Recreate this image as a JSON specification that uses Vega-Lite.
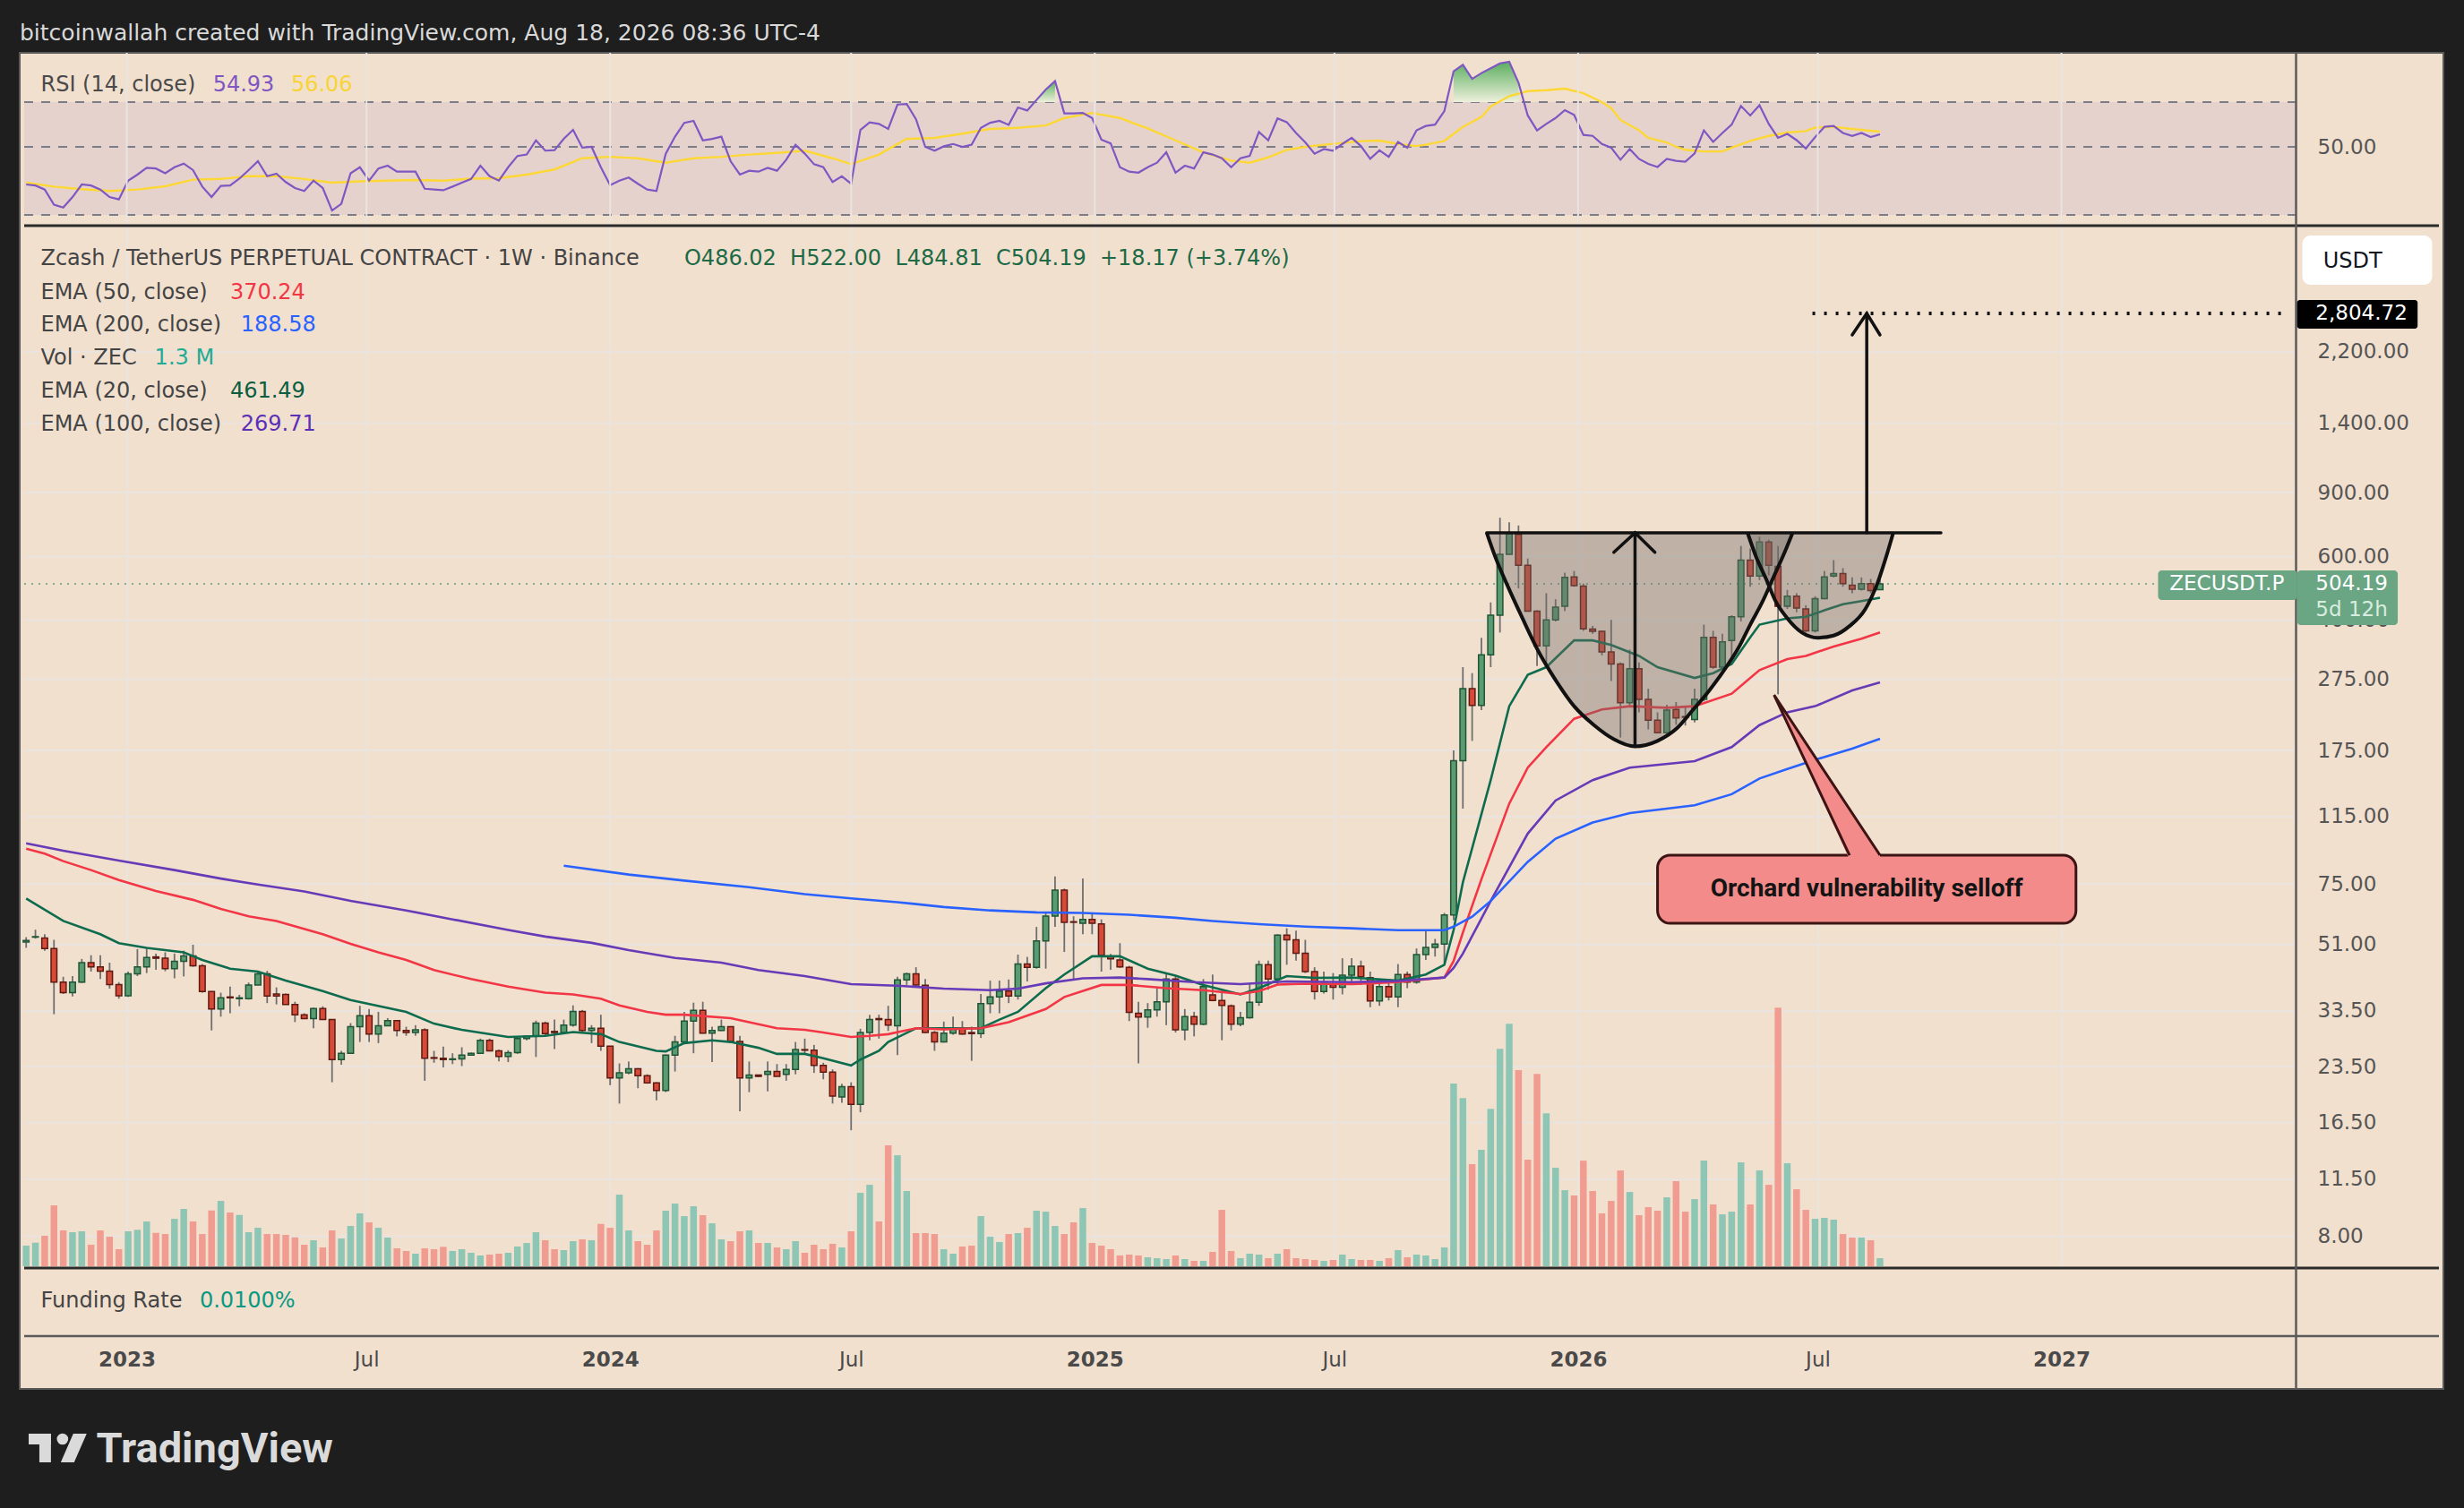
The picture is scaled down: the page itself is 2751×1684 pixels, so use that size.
{
  "$schema": "https://vega.github.io/schema/vega-lite/v6.json",
  "width": 2706,
  "height": 1492,
  "autosize": {"type": "none"},
  "padding": {"left": 22, "top": 59, "right": 23, "bottom": 133},
  "background": "#1e1e1e",
  "title": {
    "text": "bitcoinwallah created with TradingView.com, Aug 18, 2026 08:36 UTC-4",
    "anchor": "start", "frame": "group", "color": "#d9d9d9",
    "font": "DejaVu Sans", "fontSize": 25, "fontWeight": "normal", "offset": 8
  },
  "config": {
    "font": "DejaVu Sans",
    "view": {"fill": "#f2e0cf", "stroke": "#5a5a5a", "strokeWidth": 2},
    "axis": {"grid": false, "domain": false, "ticks": false},
    "text": {"font": "DejaVu Sans", "fontSize": 24, "baseline": "middle", "align": "left"}
  },
  "datasets": {
    "candles": [
      {"d":"2022-10-17","o":51.9,"h":53.5,"l":50.0,"c":52.4,"v":3.31,"r":37.7},
      {"d":"2022-10-24","o":53.5,"h":56.1,"l":53.0,"c":53.7,"v":3.79,"r":37.4},
      {"d":"2022-10-31","o":53.2,"h":54.5,"l":49.1,"c":49.8,"v":4.90,"r":36.3},
      {"d":"2022-11-07","o":49.8,"h":52.6,"l":32.8,"c":40.2,"v":9.79,"r":32.4},
      {"d":"2022-11-14","o":40.2,"h":41.6,"l":37.3,"c":37.6,"v":5.76,"r":31.7},
      {"d":"2022-11-21","o":37.6,"h":41.8,"l":36.7,"c":40.2,"v":5.47,"r":34.3},
      {"d":"2022-11-28","o":40.2,"h":46.6,"l":40.0,"c":45.5,"v":5.62,"r":37.7},
      {"d":"2022-12-05","o":45.5,"h":47.7,"l":43.0,"c":44.3,"v":3.46,"r":37.4},
      {"d":"2022-12-12","o":44.3,"h":47.7,"l":41.0,"c":43.1,"v":5.76,"r":36.3},
      {"d":"2022-12-19","o":43.1,"h":45.5,"l":38.6,"c":39.6,"v":4.75,"r":34.3},
      {"d":"2022-12-26","o":39.6,"h":40.2,"l":36.2,"c":36.9,"v":2.74,"r":33.7},
      {"d":"2023-01-02","o":36.9,"h":43.0,"l":36.6,"c":42.4,"v":5.62,"r":38.8},
      {"d":"2023-01-09","o":42.4,"h":49.6,"l":41.8,"c":44.3,"v":5.86,"r":40.6},
      {"d":"2023-01-16","o":44.3,"h":49.8,"l":42.6,"c":47.0,"v":7.20,"r":42.7},
      {"d":"2023-01-23","o":47.2,"h":48.2,"l":43.5,"c":46.8,"v":5.37,"r":42.5},
      {"d":"2023-01-30","o":46.8,"h":48.6,"l":43.1,"c":43.8,"v":5.18,"r":41.0},
      {"d":"2023-02-06","o":43.8,"h":48.2,"l":41.2,"c":45.9,"v":7.63,"r":42.9},
      {"d":"2023-02-13","o":45.9,"h":49.1,"l":41.7,"c":47.5,"v":9.22,"r":44.1},
      {"d":"2023-02-20","o":47.5,"h":51.0,"l":44.3,"c":44.6,"v":7.20,"r":42.0},
      {"d":"2023-02-27","o":44.6,"h":45.1,"l":37.6,"c":37.9,"v":5.18,"r":37.1},
      {"d":"2023-03-06","o":37.9,"h":38.0,"l":29.6,"c":33.9,"v":8.97,"r":34.3},
      {"d":"2023-03-13","o":33.9,"h":37.6,"l":32.3,"c":36.4,"v":10.51,"r":37.3},
      {"d":"2023-03-20","o":36.6,"h":39.1,"l":33.0,"c":36.4,"v":8.64,"r":37.4},
      {"d":"2023-03-27","o":36.2,"h":37.1,"l":34.5,"c":36.4,"v":8.25,"r":39.4},
      {"d":"2023-04-03","o":36.2,"h":40.1,"l":36.0,"c":39.5,"v":5.47,"r":42.0},
      {"d":"2023-04-10","o":39.5,"h":43.0,"l":39.5,"c":42.4,"v":6.19,"r":44.9},
      {"d":"2023-04-17","o":42.4,"h":43.2,"l":35.2,"c":36.8,"v":5.18,"r":40.1},
      {"d":"2023-04-24","o":37.3,"h":38.9,"l":34.9,"c":36.8,"v":5.18,"r":40.9},
      {"d":"2023-05-01","o":37.2,"h":37.4,"l":34.9,"c":34.9,"v":5.04,"r":38.4},
      {"d":"2023-05-08","o":34.9,"h":35.5,"l":31.2,"c":32.7,"v":4.65,"r":36.7},
      {"d":"2023-05-15","o":32.7,"h":33.0,"l":31.9,"c":31.9,"v":3.46,"r":35.9},
      {"d":"2023-05-22","o":31.9,"h":34.2,"l":30.0,"c":34.0,"v":4.18,"r":38.8},
      {"d":"2023-05-29","o":34.0,"h":34.5,"l":31.7,"c":31.7,"v":3.02,"r":36.7},
      {"d":"2023-06-05","o":31.7,"h":31.7,"l":21.3,"c":24.6,"v":5.76,"r":31.0},
      {"d":"2023-06-12","o":24.6,"h":26.0,"l":23.8,"c":25.6,"v":4.46,"r":32.6},
      {"d":"2023-06-19","o":25.6,"h":31.0,"l":25.5,"c":30.3,"v":6.48,"r":41.0},
      {"d":"2023-06-26","o":30.3,"h":34.6,"l":27.5,"c":32.5,"v":8.50,"r":42.9},
      {"d":"2023-07-03","o":32.5,"h":33.9,"l":27.5,"c":28.9,"v":7.06,"r":38.8},
      {"d":"2023-07-10","o":28.9,"h":33.3,"l":27.3,"c":30.5,"v":6.19,"r":42.5},
      {"d":"2023-07-17","o":30.5,"h":32.0,"l":30.4,"c":31.5,"v":4.61,"r":43.4},
      {"d":"2023-07-24","o":31.5,"h":31.6,"l":28.5,"c":29.6,"v":2.88,"r":41.5},
      {"d":"2023-07-31","o":29.6,"h":30.3,"l":28.6,"c":29.2,"v":2.45,"r":41.5},
      {"d":"2023-08-07","o":29.2,"h":30.6,"l":28.6,"c":29.7,"v":2.02,"r":41.5},
      {"d":"2023-08-14","o":29.7,"h":30.0,"l":21.5,"c":24.8,"v":2.88,"r":36.5},
      {"d":"2023-08-21","o":24.9,"h":26.0,"l":24.1,"c":24.8,"v":2.74,"r":36.3},
      {"d":"2023-08-28","o":24.8,"h":26.7,"l":23.4,"c":24.6,"v":3.12,"r":36.1},
      {"d":"2023-09-04","o":24.6,"h":25.6,"l":23.9,"c":24.7,"v":2.45,"r":37.1},
      {"d":"2023-09-11","o":24.7,"h":26.6,"l":23.6,"c":25.3,"v":2.74,"r":38.2},
      {"d":"2023-09-18","o":25.3,"h":25.7,"l":25.3,"c":25.6,"v":2.16,"r":39.3},
      {"d":"2023-09-25","o":25.6,"h":28.1,"l":25.5,"c":27.8,"v":1.73,"r":43.4},
      {"d":"2023-10-02","o":27.8,"h":28.1,"l":25.9,"c":26.0,"v":1.87,"r":40.1},
      {"d":"2023-10-09","o":26.0,"h":26.2,"l":24.3,"c":25.1,"v":2.02,"r":38.8},
      {"d":"2023-10-16","o":25.1,"h":26.1,"l":24.2,"c":25.7,"v":2.16,"r":42.9},
      {"d":"2023-10-23","o":25.7,"h":28.5,"l":25.5,"c":28.1,"v":3.17,"r":46.7},
      {"d":"2023-10-30","o":28.1,"h":28.6,"l":27.8,"c":28.5,"v":3.74,"r":47.2},
      {"d":"2023-11-06","o":28.5,"h":31.5,"l":25.0,"c":31.0,"v":5.47,"r":52.5},
      {"d":"2023-11-13","o":31.0,"h":31.3,"l":28.6,"c":29.0,"v":4.18,"r":48.6},
      {"d":"2023-11-20","o":29.4,"h":31.7,"l":26.3,"c":29.2,"v":2.74,"r":48.8},
      {"d":"2023-11-27","o":29.2,"h":31.7,"l":28.9,"c":30.6,"v":2.59,"r":53.1},
      {"d":"2023-12-04","o":30.6,"h":34.7,"l":30.3,"c":33.4,"v":4.03,"r":56.8},
      {"d":"2023-12-11","o":33.4,"h":33.7,"l":29.2,"c":29.6,"v":4.32,"r":49.7},
      {"d":"2023-12-18","o":29.6,"h":30.6,"l":27.3,"c":30.0,"v":4.18,"r":50.0},
      {"d":"2023-12-25","o":30.0,"h":32.7,"l":26.0,"c":26.8,"v":6.81,"r":42.9},
      {"d":"2024-01-01","o":26.8,"h":26.8,"l":20.9,"c":21.9,"v":6.19,"r":37.5},
      {"d":"2024-01-08","o":21.9,"h":24.0,"l":18.6,"c":22.6,"v":11.52,"r":38.8},
      {"d":"2024-01-15","o":22.6,"h":24.3,"l":22.4,"c":23.2,"v":5.76,"r":39.7},
      {"d":"2024-01-22","o":23.2,"h":23.3,"l":20.5,"c":22.2,"v":4.03,"r":37.9},
      {"d":"2024-01-29","o":22.2,"h":22.4,"l":21.1,"c":21.2,"v":3.46,"r":36.3},
      {"d":"2024-02-05","o":21.2,"h":21.3,"l":19.0,"c":20.2,"v":5.76,"r":35.9},
      {"d":"2024-02-12","o":20.2,"h":25.4,"l":20.0,"c":25.3,"v":8.93,"r":47.5},
      {"d":"2024-02-19","o":25.3,"h":28.6,"l":22.8,"c":27.5,"v":10.08,"r":54.0},
      {"d":"2024-02-26","o":27.5,"h":33.3,"l":27.5,"c":31.4,"v":8.06,"r":59.9},
      {"d":"2024-03-04","o":31.4,"h":35.3,"l":25.6,"c":33.6,"v":9.65,"r":60.8},
      {"d":"2024-03-11","o":33.6,"h":35.5,"l":29.0,"c":29.1,"v":8.21,"r":52.5},
      {"d":"2024-03-18","o":29.1,"h":30.3,"l":24.2,"c":29.6,"v":6.91,"r":53.1},
      {"d":"2024-03-25","o":29.6,"h":31.7,"l":29.5,"c":30.3,"v":4.32,"r":54.0},
      {"d":"2024-04-01","o":30.3,"h":30.4,"l":27.5,"c":27.6,"v":4.03,"r":44.9},
      {"d":"2024-04-08","o":27.6,"h":28.6,"l":17.7,"c":21.9,"v":5.62,"r":40.6},
      {"d":"2024-04-15","o":21.9,"h":24.3,"l":20.0,"c":22.3,"v":5.76,"r":41.8},
      {"d":"2024-04-22","o":22.3,"h":22.3,"l":22.0,"c":22.1,"v":3.74,"r":41.5},
      {"d":"2024-04-29","o":22.4,"h":24.3,"l":20.1,"c":22.8,"v":3.74,"r":42.7},
      {"d":"2024-05-06","o":22.8,"h":23.9,"l":22.1,"c":22.1,"v":3.02,"r":41.8},
      {"d":"2024-05-13","o":22.4,"h":23.9,"l":21.5,"c":23.1,"v":2.74,"r":45.4},
      {"d":"2024-05-20","o":23.1,"h":27.5,"l":22.4,"c":26.2,"v":4.03,"r":50.8},
      {"d":"2024-05-27","o":26.2,"h":28.1,"l":25.5,"c":26.1,"v":2.16,"r":47.5},
      {"d":"2024-06-03","o":26.1,"h":27.0,"l":22.6,"c":23.7,"v":3.46,"r":43.9},
      {"d":"2024-06-10","o":23.7,"h":24.1,"l":21.7,"c":22.7,"v":2.74,"r":42.9},
      {"d":"2024-06-17","o":22.7,"h":23.1,"l":18.6,"c":19.5,"v":3.60,"r":38.4},
      {"d":"2024-06-24","o":19.4,"h":21.1,"l":18.7,"c":20.7,"v":3.02,"r":40.1},
      {"d":"2024-07-01","o":20.7,"h":21.3,"l":15.7,"c":18.5,"v":5.62,"r":37.9},
      {"d":"2024-07-08","o":18.5,"h":29.9,"l":17.6,"c":29.2,"v":11.81,"r":56.8},
      {"d":"2024-07-15","o":29.2,"h":32.7,"l":27.8,"c":31.7,"v":13.10,"r":60.1},
      {"d":"2024-07-22","o":31.9,"h":32.7,"l":28.1,"c":31.7,"v":7.20,"r":59.4},
      {"d":"2024-07-29","o":31.7,"h":34.6,"l":29.5,"c":30.6,"v":19.44,"r":57.2},
      {"d":"2024-08-05","o":30.5,"h":41.6,"l":25.3,"c":40.8,"v":17.86,"r":68.7},
      {"d":"2024-08-12","o":40.8,"h":42.7,"l":39.5,"c":42.4,"v":12.10,"r":69.0},
      {"d":"2024-08-19","o":42.4,"h":44.2,"l":39.1,"c":39.5,"v":5.33,"r":61.5},
      {"d":"2024-08-26","o":39.4,"h":41.0,"l":29.1,"c":29.2,"v":5.33,"r":50.0},
      {"d":"2024-09-02","o":29.2,"h":29.5,"l":26.0,"c":27.5,"v":5.18,"r":48.6},
      {"d":"2024-09-09","o":27.5,"h":31.3,"l":27.4,"c":29.1,"v":2.74,"r":50.2},
      {"d":"2024-09-16","o":29.1,"h":32.3,"l":28.8,"c":30.0,"v":2.02,"r":51.1},
      {"d":"2024-09-23","o":30.0,"h":31.4,"l":28.8,"c":28.9,"v":3.17,"r":50.0},
      {"d":"2024-09-30","o":29.2,"h":30.3,"l":24.4,"c":29.0,"v":3.31,"r":50.8},
      {"d":"2024-10-07","o":29.0,"h":37.3,"l":28.2,"c":35.1,"v":8.06,"r":57.7},
      {"d":"2024-10-14","o":35.1,"h":40.6,"l":33.0,"c":36.6,"v":4.75,"r":59.9},
      {"d":"2024-10-21","o":36.6,"h":40.6,"l":33.0,"c":38.0,"v":3.89,"r":60.8},
      {"d":"2024-10-28","o":38.0,"h":40.9,"l":35.2,"c":36.8,"v":5.18,"r":59.0},
      {"d":"2024-11-04","o":36.8,"h":47.9,"l":36.0,"c":45.1,"v":5.33,"r":67.2},
      {"d":"2024-11-11","o":45.1,"h":47.2,"l":40.4,"c":44.2,"v":6.19,"r":65.7},
      {"d":"2024-11-18","o":44.2,"h":57.1,"l":43.8,"c":52.2,"v":8.93,"r":71.1},
      {"d":"2024-11-25","o":52.2,"h":62.4,"l":43.8,"c":61.2,"v":8.78,"r":76.9},
      {"d":"2024-12-02","o":61.2,"h":78.6,"l":57.1,"c":72.1,"v":6.48,"r":81.9},
      {"d":"2024-12-09","o":72.1,"h":72.8,"l":48.7,"c":58.8,"v":5.18,"r":64.3},
      {"d":"2024-12-16","o":59.0,"h":61.1,"l":41.0,"c":58.8,"v":7.06,"r":64.3},
      {"d":"2024-12-23","o":58.4,"h":77.7,"l":54.5,"c":59.9,"v":9.36,"r":64.5},
      {"d":"2024-12-30","o":59.9,"h":62.4,"l":54.5,"c":58.4,"v":3.74,"r":62.1},
      {"d":"2025-01-06","o":58.2,"h":59.9,"l":43.0,"c":47.7,"v":3.31,"r":52.8},
      {"d":"2025-01-13","o":47.4,"h":48.1,"l":43.5,"c":46.6,"v":2.74,"r":51.3},
      {"d":"2025-01-20","o":46.3,"h":51.5,"l":44.0,"c":44.3,"v":1.73,"r":42.9},
      {"d":"2025-01-27","o":44.2,"h":44.6,"l":31.4,"c":33.2,"v":1.87,"r":41.5},
      {"d":"2025-02-03","o":33.0,"h":35.5,"l":24.0,"c":32.2,"v":1.73,"r":41.2},
      {"d":"2025-02-10","o":32.2,"h":35.2,"l":30.1,"c":33.7,"v":1.44,"r":42.9},
      {"d":"2025-02-17","o":33.7,"h":38.7,"l":32.3,"c":35.5,"v":1.30,"r":44.4},
      {"d":"2025-02-24","o":35.5,"h":42.6,"l":30.6,"c":41.0,"v":1.15,"r":48.0},
      {"d":"2025-03-03","o":41.0,"h":41.8,"l":29.2,"c":29.7,"v":1.73,"r":41.2},
      {"d":"2025-03-10","o":29.7,"h":33.9,"l":27.8,"c":32.3,"v":1.15,"r":43.4},
      {"d":"2025-03-17","o":32.3,"h":33.3,"l":28.5,"c":30.8,"v":0.86,"r":42.5},
      {"d":"2025-03-24","o":30.8,"h":41.0,"l":30.6,"c":39.1,"v":0.86,"r":48.0},
      {"d":"2025-03-31","o":37.1,"h":42.2,"l":35.6,"c":35.8,"v":2.30,"r":47.2},
      {"d":"2025-04-07","o":35.8,"h":38.6,"l":27.8,"c":34.7,"v":9.07,"r":45.9},
      {"d":"2025-04-14","o":34.6,"h":34.9,"l":29.6,"c":30.8,"v":2.45,"r":42.9},
      {"d":"2025-04-21","o":30.8,"h":33.3,"l":30.4,"c":32.1,"v":1.30,"r":45.9},
      {"d":"2025-04-28","o":32.1,"h":39.9,"l":31.9,"c":35.4,"v":2.02,"r":46.7},
      {"d":"2025-05-05","o":35.4,"h":46.1,"l":34.6,"c":44.9,"v":1.87,"r":55.9},
      {"d":"2025-05-12","o":44.9,"h":46.1,"l":38.3,"c":41.0,"v":1.30,"r":52.5},
      {"d":"2025-05-19","o":41.0,"h":54.5,"l":39.5,"c":54.2,"v":2.02,"r":61.9},
      {"d":"2025-05-26","o":54.2,"h":56.6,"l":44.9,"c":52.6,"v":2.74,"r":60.2},
      {"d":"2025-06-02","o":52.6,"h":55.8,"l":46.1,"c":48.3,"v":1.30,"r":55.5},
      {"d":"2025-06-09","o":48.3,"h":52.6,"l":42.6,"c":43.0,"v":1.15,"r":51.7},
      {"d":"2025-06-16","o":43.0,"h":44.2,"l":36.0,"c":37.9,"v":1.01,"r":47.5},
      {"d":"2025-06-23","o":37.9,"h":43.0,"l":37.4,"c":39.9,"v":0.86,"r":49.2},
      {"d":"2025-06-30","o":39.6,"h":42.6,"l":36.0,"c":38.9,"v":1.01,"r":48.6},
      {"d":"2025-07-07","o":38.9,"h":46.8,"l":37.2,"c":42.0,"v":1.87,"r":51.1},
      {"d":"2025-07-14","o":42.0,"h":46.8,"l":39.5,"c":44.5,"v":1.15,"r":53.5},
      {"d":"2025-07-21","o":44.5,"h":46.1,"l":39.5,"c":41.6,"v":1.01,"r":50.3},
      {"d":"2025-07-28","o":41.4,"h":43.0,"l":34.3,"c":35.7,"v":1.01,"r":45.7},
      {"d":"2025-08-04","o":35.7,"h":40.2,"l":34.6,"c":39.1,"v":0.86,"r":48.7},
      {"d":"2025-08-11","o":39.1,"h":41.0,"l":35.8,"c":36.6,"v":1.30,"r":46.4},
      {"d":"2025-08-18","o":36.6,"h":45.1,"l":34.3,"c":42.2,"v":2.59,"r":51.9},
      {"d":"2025-08-25","o":42.2,"h":43.0,"l":38.7,"c":40.2,"v":1.44,"r":49.7},
      {"d":"2025-09-01","o":40.2,"h":49.8,"l":39.8,"c":47.9,"v":1.87,"r":56.6},
      {"d":"2025-09-08","o":47.9,"h":55.6,"l":46.3,"c":50.1,"v":1.73,"r":58.5},
      {"d":"2025-09-15","o":50.1,"h":52.9,"l":47.3,"c":51.2,"v":1.15,"r":59.1},
      {"d":"2025-09-22","o":51.2,"h":62.4,"l":45.4,"c":61.6,"v":3.02,"r":65.4},
      {"d":"2025-09-29","o":61.6,"h":175,"l":59.5,"c":164,"v":29.38,"r":88.2},
      {"d":"2025-10-06","o":164,"h":297,"l":121,"c":259,"v":27.07,"r":92.6},
      {"d":"2025-10-13","o":259,"h":286,"l":186,"c":233,"v":16.42,"r":83.3},
      {"d":"2025-10-20","o":233,"h":358,"l":226,"c":321,"v":18.72,"r":87.0},
      {"d":"2025-10-27","o":321,"h":448,"l":297,"c":413,"v":25.34,"r":90.2},
      {"d":"2025-11-03","o":413,"h":767,"l":370,"c":608,"v":34.99,"r":93.6},
      {"d":"2025-11-10","o":608,"h":745,"l":607,"c":694,"v":39.02,"r":94.7},
      {"d":"2025-11-17","o":690,"h":730,"l":490,"c":567,"v":31.54,"r":81.0},
      {"d":"2025-11-24","o":567,"h":592,"l":423,"c":424,"v":17.14,"r":63.3},
      {"d":"2025-12-01","o":424,"h":426,"l":299,"c":340,"v":30.96,"r":56.6},
      {"d":"2025-12-08","o":340,"h":475,"l":303,"c":401,"v":24.62,"r":59.4},
      {"d":"2025-12-15","o":401,"h":457,"l":397,"c":435,"v":15.84,"r":62.1},
      {"d":"2025-12-22","o":437,"h":541,"l":424,"c":525,"v":12.24,"r":65.9},
      {"d":"2025-12-29","o":527,"h":547,"l":495,"c":498,"v":11.38,"r":63.6},
      {"d":"2026-01-05","o":497,"h":505,"l":374,"c":379,"v":16.99,"r":54.7},
      {"d":"2026-01-12","o":378,"h":386,"l":367,"c":373,"v":12.10,"r":54.3},
      {"d":"2026-01-19","o":373,"h":374,"l":320,"c":327,"v":8.50,"r":51.1},
      {"d":"2026-01-26","o":327,"h":401,"l":272,"c":303,"v":10.51,"r":49.7},
      {"d":"2026-02-02","o":303,"h":306,"l":190,"c":237,"v":15.41,"r":45.4},
      {"d":"2026-02-09","o":237,"h":332,"l":231,"c":294,"v":11.95,"r":49.2},
      {"d":"2026-02-16","o":294,"h":306,"l":223,"c":242,"v":8.21,"r":45.7},
      {"d":"2026-02-23","o":242,"h":259,"l":200,"c":212,"v":9.50,"r":44.0},
      {"d":"2026-03-02","o":212,"h":223,"l":195,"c":196,"v":8.93,"r":43.0},
      {"d":"2026-03-09","o":196,"h":234,"l":193,"c":226,"v":11.09,"r":45.7},
      {"d":"2026-03-16","o":227,"h":238,"l":206,"c":215,"v":13.68,"r":45.0},
      {"d":"2026-03-23","o":217,"h":232,"l":205,"c":216,"v":8.78,"r":44.7},
      {"d":"2026-03-30","o":213,"h":259,"l":209,"c":242,"v":10.80,"r":47.6},
      {"d":"2026-04-06","o":242,"h":389,"l":239,"c":359,"v":16.99,"r":56.6},
      {"d":"2026-04-13","o":359,"h":374,"l":294,"c":297,"v":9.94,"r":51.9},
      {"d":"2026-04-20","o":297,"h":367,"l":293,"c":349,"v":8.35,"r":55.5},
      {"d":"2026-04-27","o":352,"h":413,"l":309,"c":409,"v":8.78,"r":59.1},
      {"d":"2026-05-04","o":409,"h":641,"l":397,"c":586,"v":16.70,"r":68.0},
      {"d":"2026-05-11","o":586,"h":630,"l":495,"c":530,"v":9.94,"r":63.3},
      {"d":"2026-05-18","o":530,"h":680,"l":516,"c":657,"v":15.41,"r":68.4},
      {"d":"2026-05-25","o":657,"h":667,"l":532,"c":567,"v":13.10,"r":59.4},
      {"d":"2026-06-01","o":563,"h":641,"l":250,"c":437,"v":41.62,"r":53.5},
      {"d":"2026-06-08","o":437,"h":485,"l":430,"c":466,"v":16.56,"r":55.1},
      {"d":"2026-06-15","o":466,"h":475,"l":421,"c":432,"v":12.38,"r":52.6},
      {"d":"2026-06-22","o":430,"h":440,"l":370,"c":374,"v":9.07,"r":49.4},
      {"d":"2026-06-29","o":374,"h":466,"l":370,"c":459,"v":7.63,"r":53.8},
      {"d":"2026-07-06","o":459,"h":547,"l":457,"c":527,"v":7.78,"r":58.1},
      {"d":"2026-07-13","o":530,"h":586,"l":525,"c":538,"v":7.49,"r":58.5},
      {"d":"2026-07-20","o":538,"h":557,"l":495,"c":505,"v":5.18,"r":55.5},
      {"d":"2026-07-27","o":500,"h":525,"l":475,"c":487,"v":4.61,"r":54.3},
      {"d":"2026-08-03","o":487,"h":525,"l":483,"c":505,"v":4.61,"r":55.5},
      {"d":"2026-08-10","o":505,"h":520,"l":475,"c":483,"v":4.18,"r":53.8},
      {"d":"2026-08-17","o":486.02,"h":522.00,"l":484.81,"c":504.19,"v":1.30,"r":54.93}
    ],
    "ema": [
      {"s":"20","d":"2022-10-17","v":68.4},{"s":"20","d":"2022-11-14","v":59.3},{"s":"20","d":"2022-12-12","v":54.5},{"s":"20","d":"2022-12-26","v":51.5},
      {"s":"20","d":"2023-01-16","v":50.0},{"s":"20","d":"2023-02-13","v":48.6},{"s":"20","d":"2023-02-27","v":46.3},{"s":"20","d":"2023-03-20","v":43.8},
      {"s":"20","d":"2023-04-10","v":43.0},{"s":"20","d":"2023-05-01","v":40.6},{"s":"20","d":"2023-05-29","v":38.0},{"s":"20","d":"2023-06-19","v":35.9},
      {"s":"20","d":"2023-07-31","v":33.3},{"s":"20","d":"2023-08-21","v":30.9},{"s":"20","d":"2023-09-11","v":29.7},{"s":"20","d":"2023-10-16","v":28.4},
      {"s":"20","d":"2023-11-13","v":28.6},{"s":"20","d":"2023-12-04","v":29.3},{"s":"20","d":"2023-12-25","v":28.9},{"s":"20","d":"2024-01-08","v":27.5},
      {"s":"20","d":"2024-02-05","v":26.0},{"s":"20","d":"2024-02-12","v":25.9},{"s":"20","d":"2024-02-26","v":27.3},{"s":"20","d":"2024-03-18","v":27.8},
      {"s":"20","d":"2024-04-01","v":27.5},{"s":"20","d":"2024-04-22","v":26.5},{"s":"20","d":"2024-05-06","v":25.5},{"s":"20","d":"2024-05-27","v":25.5},
      {"s":"20","d":"2024-06-10","v":24.8},{"s":"20","d":"2024-07-01","v":23.7},{"s":"20","d":"2024-07-08","v":24.6},{"s":"20","d":"2024-07-22","v":26.0},
      {"s":"20","d":"2024-07-29","v":27.5},{"s":"20","d":"2024-08-19","v":30.0},{"s":"20","d":"2024-09-09","v":30.0},{"s":"20","d":"2024-10-07","v":30.0},
      {"s":"20","d":"2024-10-21","v":31.7},{"s":"20","d":"2024-11-04","v":33.3},{"s":"20","d":"2024-11-25","v":38.7},{"s":"20","d":"2024-12-09","v":42.2},
      {"s":"20","d":"2024-12-30","v":47.4},{"s":"20","d":"2025-01-20","v":47.4},{"s":"20","d":"2025-02-10","v":43.8},{"s":"20","d":"2025-03-03","v":41.9},
      {"s":"20","d":"2025-03-24","v":39.5},{"s":"20","d":"2025-04-21","v":37.2},{"s":"20","d":"2025-05-05","v":38.7},{"s":"20","d":"2025-05-26","v":41.8},
      {"s":"20","d":"2025-06-16","v":41.3},{"s":"20","d":"2025-07-14","v":41.4},{"s":"20","d":"2025-08-18","v":40.6},{"s":"20","d":"2025-09-08","v":42.2},
      {"s":"20","d":"2025-09-22","v":44.9},{"s":"20","d":"2025-09-29","v":56.0},{"s":"20","d":"2025-10-06","v":75.8},{"s":"20","d":"2025-10-27","v":145},
      {"s":"20","d":"2025-11-10","v":231.8},{"s":"20","d":"2025-11-24","v":282.9},{"s":"20","d":"2025-12-08","v":297},{"s":"20","d":"2025-12-29","v":352},
      {"s":"20","d":"2026-01-12","v":352},{"s":"20","d":"2026-01-26","v":342},{"s":"20","d":"2026-02-16","v":319},{"s":"20","d":"2026-03-02","v":297},
      {"s":"20","d":"2026-03-30","v":277.3},{"s":"20","d":"2026-04-13","v":286},{"s":"20","d":"2026-04-27","v":303},{"s":"20","d":"2026-05-11","v":359},
      {"s":"20","d":"2026-05-18","v":389},{"s":"20","d":"2026-06-08","v":405},{"s":"20","d":"2026-06-22","v":409},{"s":"20","d":"2026-07-06","v":426},
      {"s":"20","d":"2026-07-20","v":443},{"s":"20","d":"2026-08-03","v":452},{"s":"20","d":"2026-08-17","v":461.49},
      {"s":"50","d":"2022-10-17","v":93.8},{"s":"50","d":"2022-10-31","v":90.9},{"s":"50","d":"2022-11-14","v":86.7},{"s":"50","d":"2022-12-05","v":81.9},
      {"s":"50","d":"2022-12-26","v":76.9},{"s":"50","d":"2023-01-23","v":71.7},{"s":"50","d":"2023-02-20","v":67.8},{"s":"50","d":"2023-03-13","v":64.0},
      {"s":"50","d":"2023-04-03","v":61.1},{"s":"50","d":"2023-04-24","v":59.3},{"s":"50","d":"2023-05-29","v":54.5},{"s":"50","d":"2023-06-19","v":51.3},
      {"s":"50","d":"2023-07-10","v":48.6},{"s":"50","d":"2023-07-31","v":46.3},{"s":"50","d":"2023-08-21","v":43.4},{"s":"50","d":"2023-09-18","v":41.0},
      {"s":"50","d":"2023-10-16","v":39.1},{"s":"50","d":"2023-11-13","v":37.6},{"s":"50","d":"2023-12-04","v":37.2},{"s":"50","d":"2023-12-25","v":36.2},
      {"s":"50","d":"2024-01-08","v":34.7},{"s":"50","d":"2024-01-29","v":33.3},{"s":"50","d":"2024-02-12","v":32.7},{"s":"50","d":"2024-02-26","v":32.7},
      {"s":"50","d":"2024-04-01","v":32.0},{"s":"50","d":"2024-04-15","v":31.2},{"s":"50","d":"2024-05-06","v":30.0},{"s":"50","d":"2024-05-27","v":29.7},
      {"s":"50","d":"2024-06-10","v":29.2},{"s":"50","d":"2024-07-01","v":28.4},{"s":"50","d":"2024-07-15","v":28.6},{"s":"50","d":"2024-07-29","v":28.9},
      {"s":"50","d":"2024-08-19","v":30.0},{"s":"50","d":"2024-09-09","v":29.8},{"s":"50","d":"2024-10-07","v":30.0},{"s":"50","d":"2024-10-28","v":31.2},
      {"s":"50","d":"2024-11-25","v":33.9},{"s":"50","d":"2024-12-09","v":36.6},{"s":"50","d":"2025-01-06","v":39.5},{"s":"50","d":"2025-01-27","v":39.5},
      {"s":"50","d":"2025-02-24","v":38.7},{"s":"50","d":"2025-03-24","v":38.2},{"s":"50","d":"2025-04-21","v":37.3},{"s":"50","d":"2025-05-05","v":38.0},
      {"s":"50","d":"2025-05-19","v":39.6},{"s":"50","d":"2025-06-09","v":39.8},{"s":"50","d":"2025-07-14","v":39.7},{"s":"50","d":"2025-08-18","v":40.2},
      {"s":"50","d":"2025-09-22","v":41.4},{"s":"50","d":"2025-09-29","v":46.0},{"s":"50","d":"2025-10-06","v":55.1},{"s":"50","d":"2025-10-20","v":77.3},
      {"s":"50","d":"2025-11-10","v":124.9},{"s":"50","d":"2025-11-24","v":157},{"s":"50","d":"2025-12-08","v":178.8},{"s":"50","d":"2025-12-29","v":214},
      {"s":"50","d":"2026-01-19","v":227},{"s":"50","d":"2026-02-09","v":231.8},{"s":"50","d":"2026-03-09","v":229.5},{"s":"50","d":"2026-03-30","v":231.8},
      {"s":"50","d":"2026-04-27","v":251},{"s":"50","d":"2026-05-18","v":291.5},{"s":"50","d":"2026-06-08","v":312.6},{"s":"50","d":"2026-06-22","v":319},
      {"s":"50","d":"2026-07-13","v":338.6},{"s":"50","d":"2026-08-03","v":356},{"s":"50","d":"2026-08-17","v":370.24},
      {"s":"100","d":"2022-10-17","v":97.1},{"s":"100","d":"2022-11-14","v":92.6},{"s":"100","d":"2022-12-26","v":87.0},{"s":"100","d":"2023-02-06","v":81.9},
      {"s":"100","d":"2023-03-13","v":77.6},{"s":"100","d":"2023-04-10","v":74.7},{"s":"100","d":"2023-05-15","v":71.5},{"s":"100","d":"2023-06-19","v":67.4},
      {"s":"100","d":"2023-07-31","v":63.4},{"s":"100","d":"2023-09-04","v":59.9},{"s":"100","d":"2023-10-16","v":56.0},{"s":"100","d":"2023-11-13","v":53.7},
      {"s":"100","d":"2023-12-18","v":51.6},{"s":"100","d":"2024-01-15","v":49.3},{"s":"100","d":"2024-02-19","v":46.9},{"s":"100","d":"2024-03-25","v":45.5},
      {"s":"100","d":"2024-04-22","v":43.4},{"s":"100","d":"2024-05-27","v":41.8},{"s":"100","d":"2024-07-01","v":39.7},{"s":"100","d":"2024-08-05","v":39.3},
      {"s":"100","d":"2024-09-09","v":38.6},{"s":"100","d":"2024-10-14","v":38.2},{"s":"100","d":"2024-11-04","v":38.6},{"s":"100","d":"2024-11-25","v":39.9},
      {"s":"100","d":"2024-12-23","v":41.2},{"s":"100","d":"2025-01-20","v":41.4},{"s":"100","d":"2025-02-10","v":41.0},{"s":"100","d":"2025-03-17","v":40.2},
      {"s":"100","d":"2025-04-21","v":39.7},{"s":"100","d":"2025-05-26","v":40.4},{"s":"100","d":"2025-07-14","v":40.2},{"s":"100","d":"2025-08-18","v":40.5},
      {"s":"100","d":"2025-09-22","v":41.4},{"s":"100","d":"2025-09-29","v":44.0},{"s":"100","d":"2025-10-06","v":48.2},{"s":"100","d":"2025-10-27","v":67.3},
      {"s":"100","d":"2025-11-24","v":103.3},{"s":"100","d":"2025-12-15","v":127.4},{"s":"100","d":"2026-01-12","v":145},{"s":"100","d":"2026-02-09","v":157},
      {"s":"100","d":"2026-03-30","v":163.5},{"s":"100","d":"2026-04-27","v":178.8},{"s":"100","d":"2026-05-18","v":205.6},{"s":"100","d":"2026-06-08","v":223},
      {"s":"100","d":"2026-06-29","v":231.8},{"s":"100","d":"2026-07-27","v":256.1},{"s":"100","d":"2026-08-17","v":269.71},
      {"s":"200","d":"2023-11-27","v":84.2},{"s":"200","d":"2024-01-15","v":79.6},{"s":"200","d":"2024-02-26","v":76.6},{"s":"200","d":"2024-04-15","v":73.5},
      {"s":"200","d":"2024-05-27","v":70.3},{"s":"200","d":"2024-07-01","v":68.4},{"s":"200","d":"2024-08-05","v":66.8},{"s":"200","d":"2024-09-09","v":64.8},
      {"s":"200","d":"2024-10-14","v":63.4},{"s":"200","d":"2024-11-18","v":62.6},{"s":"200","d":"2024-12-23","v":62.4},{"s":"200","d":"2025-01-27","v":61.7},
      {"s":"200","d":"2025-03-03","v":60.5},{"s":"200","d":"2025-03-31","v":59.3},{"s":"200","d":"2025-05-05","v":58.1},{"s":"200","d":"2025-06-09","v":57.2},
      {"s":"200","d":"2025-07-14","v":56.6},{"s":"200","d":"2025-08-18","v":55.9},{"s":"200","d":"2025-09-22","v":55.9},{"s":"200","d":"2025-09-29","v":57.2},
      {"s":"200","d":"2025-10-13","v":60.9},{"s":"200","d":"2025-10-27","v":67.3},{"s":"200","d":"2025-11-24","v":86.3},{"s":"200","d":"2025-12-15","v":100},
      {"s":"200","d":"2026-01-12","v":110.8},{"s":"200","d":"2026-02-09","v":117.6},{"s":"200","d":"2026-03-30","v":123.6},{"s":"200","d":"2026-04-27","v":132.6},
      {"s":"200","d":"2026-05-18","v":146.5},{"s":"200","d":"2026-06-08","v":155.5},{"s":"200","d":"2026-06-29","v":165},{"s":"200","d":"2026-07-27","v":177},
      {"s":"200","d":"2026-08-17","v":188.58}
    ],
    "rsima": [
      {"d":"2022-10-17","v":38.2},{"d":"2022-11-07","v":37.1},{"d":"2022-11-28","v":36.4},{"d":"2022-12-19","v":35.9},{"d":"2023-01-09","v":36.3},
      {"d":"2023-01-30","v":37.2},{"d":"2023-02-20","v":39.1},{"d":"2023-03-13","v":39.3},{"d":"2023-04-03","v":40.1},{"d":"2023-04-24","v":40.1},
      {"d":"2023-05-15","v":39.3},{"d":"2023-06-05","v":38.2},{"d":"2023-06-26","v":38.6},{"d":"2023-07-17","v":38.8},{"d":"2023-08-07","v":39.0},
      {"d":"2023-08-28","v":38.8},{"d":"2023-09-18","v":39.4},{"d":"2023-10-09","v":39.5},{"d":"2023-10-30","v":40.6},{"d":"2023-11-20","v":42.2},
      {"d":"2023-12-11","v":45.9},{"d":"2024-01-01","v":46.4},{"d":"2024-01-22","v":45.9},{"d":"2024-02-12","v":44.4},{"d":"2024-03-04","v":45.9},
      {"d":"2024-03-25","v":46.4},{"d":"2024-04-15","v":47.2},{"d":"2024-05-06","v":47.8},{"d":"2024-05-27","v":48.6},{"d":"2024-06-17","v":45.9},
      {"d":"2024-07-01","v":43.9},{"d":"2024-07-22","v":47.2},{"d":"2024-08-12","v":53.1},{"d":"2024-09-02","v":53.5},{"d":"2024-09-23","v":55.2},
      {"d":"2024-10-14","v":57.2},{"d":"2024-11-04","v":57.7},{"d":"2024-11-25","v":58.7},{"d":"2024-12-09","v":62.1},{"d":"2024-12-30","v":64.5},
      {"d":"2025-01-20","v":62.1},{"d":"2025-02-10","v":57.4},{"d":"2025-03-03","v":52.5},{"d":"2025-03-24","v":48.0},{"d":"2025-04-14","v":45.1},
      {"d":"2025-04-28","v":44.4},{"d":"2025-05-12","v":46.2},{"d":"2025-05-26","v":48.9},{"d":"2025-06-09","v":50.0},{"d":"2025-06-23","v":50.8},
      {"d":"2025-07-07","v":51.5},{"d":"2025-07-21","v":52.2},{"d":"2025-08-04","v":52.4},{"d":"2025-08-18","v":51.1},{"d":"2025-09-01","v":50.3},
      {"d":"2025-09-08","v":50.8},{"d":"2025-09-22","v":52.3},{"d":"2025-10-06","v":58.1},{"d":"2025-10-20","v":62.6},{"d":"2025-10-27","v":67.7},
      {"d":"2025-11-10","v":73.2},{"d":"2025-11-24","v":76.0},{"d":"2025-12-08","v":76.5},{"d":"2025-12-22","v":77.4},{"d":"2026-01-05","v":74.8},
      {"d":"2026-01-19","v":70.0},{"d":"2026-01-26","v":66.9},{"d":"2026-02-02","v":61.2},{"d":"2026-02-16","v":56.6},{"d":"2026-02-23","v":53.5},
      {"d":"2026-03-09","v":51.7},{"d":"2026-03-16","v":50.0},{"d":"2026-03-23","v":48.9},{"d":"2026-04-06","v":48.3},{"d":"2026-04-20","v":48.3},
      {"d":"2026-04-27","v":49.7},{"d":"2026-05-11","v":52.3},{"d":"2026-05-25","v":54.3},{"d":"2026-06-08","v":55.7},{"d":"2026-06-22","v":56.3},
      {"d":"2026-06-29","v":57.8},{"d":"2026-07-13","v":58.1},{"d":"2026-07-27","v":57.2},{"d":"2026-08-17","v":56.06}
    ],
    "ob": [
      {"s":"a","d":"2024-11-18","r":71.1},{"s":"a","d":"2024-11-25","r":76.9},{"s":"a","d":"2024-12-02","r":81.9},
      {"s":"b","d":"2025-09-29","r":88.2},{"s":"b","d":"2025-10-06","r":92.6},{"s":"b","d":"2025-10-13","r":83.3},{"s":"b","d":"2025-10-20","r":87.0},
      {"s":"b","d":"2025-10-27","r":90.2},{"s":"b","d":"2025-11-03","r":93.6},{"s":"b","d":"2025-11-10","r":94.7},{"s":"b","d":"2025-11-17","r":81.0}
    ],
    "xt": [
      {"t":"2023-01-01"},{"t":"2023-07-01"},{"t":"2024-01-01"},{"t":"2024-07-01"},{"t":"2025-01-01"},
      {"t":"2025-07-01"},{"t":"2026-01-01"},{"t":"2026-07-01"},{"t":"2027-01-01"}
    ],
    "cup": [
      {"g":"cup","d":"2025-10-24","p":697},{"g":"cup","d":"2025-10-30","p":604},{"g":"cup","d":"2025-11-08","p":505},{"g":"cup","d":"2025-11-20","p":405},
      {"g":"cup","d":"2025-12-02","p":328.6},{"g":"cup","d":"2025-12-14","p":277.3},{"g":"cup","d":"2025-12-29","p":231.8},{"g":"cup","d":"2026-01-13","p":205.6},
      {"g":"cup","d":"2026-01-28","p":188},{"g":"cup","d":"2026-02-13","p":179.6},{"g":"cup","d":"2026-03-02","p":186},{"g":"cup","d":"2026-03-17","p":202},
      {"g":"cup","d":"2026-03-29","p":227},{"g":"cup","d":"2026-04-10","p":256},{"g":"cup","d":"2026-04-22","p":294},{"g":"cup","d":"2026-05-02","p":335},
      {"g":"cup","d":"2026-05-11","p":389},{"g":"cup","d":"2026-05-20","p":448},{"g":"cup","d":"2026-05-29","p":530},{"g":"cup","d":"2026-06-07","p":628.5},
      {"g":"cup","d":"2026-06-12","p":697},
      {"g":"hdl","d":"2026-05-09","p":697},{"g":"hdl","d":"2026-05-15","p":604},{"g":"hdl","d":"2026-05-23","p":520},{"g":"hdl","d":"2026-05-30","p":452.6},
      {"g":"hdl","d":"2026-06-08","p":405},{"g":"hdl","d":"2026-06-19","p":370},{"g":"hdl","d":"2026-07-01","p":358},{"g":"hdl","d":"2026-07-13","p":363},
      {"g":"hdl","d":"2026-07-25","p":385.5},{"g":"hdl","d":"2026-08-06","p":430},{"g":"hdl","d":"2026-08-15","p":505},{"g":"hdl","d":"2026-08-22","p":604},
      {"g":"hdl","d":"2026-08-27","p":697}
    ],
    "draw": [
      {"g":"rim","k":1,"d":"2025-10-24","p":697},{"g":"rim","k":2,"d":"2026-10-02","p":697},
      {"g":"s1","k":1,"d":"2026-02-13","p":179.6},{"g":"s1","k":2,"d":"2026-02-13","p":697},
      {"g":"a1","k":1,"d":"2026-01-28","p":616},{"g":"a1","k":2,"d":"2026-02-13","p":697},{"g":"a1","k":3,"d":"2026-02-28","p":616},
      {"g":"s2","k":1,"d":"2026-08-07","p":697},{"g":"s2","k":2,"d":"2026-08-07","p":2804.72},
      {"g":"a2","k":1,"d":"2026-07-27","p":2448},{"g":"a2","k":2,"d":"2026-08-07","p":2804.72},{"g":"a2","k":3,"d":"2026-08-17","p":2448}
    ],
    "tri": [
      {"d":"2026-05-29","p1":249,"p2":249},{"d":"2026-07-25","p1":121.1,"p2":87.5},{"d":"2026-08-17","p1":90.0,"p2":87.5}
    ],
    "edge": [
      {"k":1,"d":"2026-07-25","p":90.0},{"k":2,"d":"2026-05-29","p":249},{"k":3,"d":"2026-08-17","p":90.0}
    ],
    "logo": [
      {"p":2.287,"a":"2022-11-21T13:40:00Z","b":"2022-12-01T16:05:00Z"},
      {"p":1.907,"a":"2022-11-12T03:07:00Z","b":"2022-11-22T05:46:00Z"}
    ]
  },
  "layer": [
    {
      "data": {"values": [{}]},
      "layer": [
        {
          "mark": {"type": "rect", "fill": "#7e57c2", "fillOpacity": 0.1},
          "encoding": {
            "x": {"datum": {"year": 2022, "month": 10, "date": 15, "hours": 12, "utc": true}, "type": "temporal",
              "scale": {"type": "utc", "domain": [{"year": 2022, "month": 10, "date": 15, "hours": 12, "utc": true}, {"year": 2027, "month": 10, "date": 13, "hours": 2, "minutes": 24, "utc": true}]},
              "axis": {
                "orient": "bottom", "offset": -59,
                "values": [
                  {"year": 2023, "month": 1, "date": 1, "utc": true}, {"year": 2023, "month": 7, "date": 1, "utc": true},
                  {"year": 2024, "month": 1, "date": 1, "utc": true}, {"year": 2024, "month": 7, "date": 1, "utc": true},
                  {"year": 2025, "month": 1, "date": 1, "utc": true}, {"year": 2025, "month": 7, "date": 1, "utc": true},
                  {"year": 2026, "month": 1, "date": 1, "utc": true}, {"year": 2026, "month": 7, "date": 1, "utc": true},
                  {"year": 2027, "month": 1, "date": 1, "utc": true}
                ],
                "labelExpr": "utcFormat(datum.value, '%m') == '01' ? utcFormat(datum.value, '%Y') : 'Jul'",
                "labelFont": "DejaVu Sans", "labelFontSize": 23, "labelColor": "#4a4a4a",
                "labelFontWeight": {"condition": {"test": "utcFormat(datum.value, '%m') == '01'", "value": "bold"}, "value": "normal"},
                "labelPadding": 15, "labelBaseline": "top", "labelFlush": false, "labelOverlap": false,
                "domain": false, "ticks": false, "grid": false,
                "title": "TradingView", "titleFont": "Roboto", "titleFontSize": 47, "titleFontWeight": "bold",
                "titleColor": "#dadada", "titleAnchor": "start", "titleAlign": "left", "titleBaseline": "middle",
                "titleX": 85, "titleY": 126
              }},
            "x2": {"datum": {"year": 2027, "month": 6, "date": 27, "hours": 5, "utc": true}},
            "y": {"datum": 70, "type": "quantitative", "scale": {"type": "log", "domain": [27.67, 101.3], "rangeMin": 193, "rangeMax": 0, "nice": false}},
            "y2": {"datum": 30}
          }
        },
        {
          "data": {"values": [{"lv": 70}, {"lv": 50}, {"lv": 30}]},
          "mark": {"type": "rule", "color": "#7b7e88", "strokeWidth": 2, "strokeDash": [10, 9]},
          "encoding": {
            "x": {"datum": {"year": 2022, "month": 10, "date": 15, "hours": 12, "utc": true}, "type": "temporal",
              "scale": {"type": "utc", "domain": [{"year": 2022, "month": 10, "date": 15, "hours": 12, "utc": true}, {"year": 2027, "month": 10, "date": 13, "hours": 2, "minutes": 24, "utc": true}]}},
            "x2": {"datum": {"year": 2027, "month": 6, "date": 27, "hours": 5, "utc": true}},
            "y": {"field": "lv", "type": "quantitative", "scale": {"type": "log", "domain": [27.67, 101.3], "rangeMin": 193, "rangeMax": 0, "nice": false},
              "axis": {"orient": "right", "offset": -160, "values": [50], "format": ".2f", "labelFont": "DejaVu Sans", "labelFontSize": 23,
                "labelColor": "#555555", "labelPadding": 19, "labelOverlap": false, "labelFlush": false, "domain": false, "ticks": false, "grid": false, "title": null}}
          }
        },
        {
          "data": {"name": "ob"},
          "mark": {"type": "area", "fill": {"gradient": "linear", "x1": 0, "y1": 0, "x2": 0, "y2": 1,
            "stops": [{"offset": 0, "color": "#5aae5e"}, {"offset": 1, "color": "#eef0dc"}]}},
          "encoding": {
            "x": {"field": "d", "type": "temporal",
              "scale": {"type": "utc", "domain": [{"year": 2022, "month": 10, "date": 15, "hours": 12, "utc": true}, {"year": 2027, "month": 10, "date": 13, "hours": 2, "minutes": 24, "utc": true}]}},
            "y": {"field": "r", "type": "quantitative", "stack": null, "scale": {"type": "log", "domain": [27.67, 101.3], "rangeMin": 193, "rangeMax": 0, "nice": false}},
            "y2": {"datum": 70},
            "detail": {"field": "s"}
          }
        },
        {
          "data": {"name": "rsima"},
          "mark": {"type": "line", "color": "#fdd835", "strokeWidth": 2.4},
          "encoding": {
            "x": {"field": "d", "type": "temporal",
              "scale": {"type": "utc", "domain": [{"year": 2022, "month": 10, "date": 15, "hours": 12, "utc": true}, {"year": 2027, "month": 10, "date": 13, "hours": 2, "minutes": 24, "utc": true}]}},
            "y": {"field": "v", "type": "quantitative", "scale": {"type": "log", "domain": [27.67, 101.3], "rangeMin": 193, "rangeMax": 0, "nice": false}}
          }
        },
        {
          "data": {"name": "candles"},
          "mark": {"type": "line", "color": "#7e57c2", "strokeWidth": 2.2},
          "encoding": {
            "x": {"field": "d", "type": "temporal",
              "scale": {"type": "utc", "domain": [{"year": 2022, "month": 10, "date": 15, "hours": 12, "utc": true}, {"year": 2027, "month": 10, "date": 13, "hours": 2, "minutes": 24, "utc": true}]}},
            "y": {"field": "r", "type": "quantitative", "scale": {"type": "log", "domain": [27.67, 101.3], "rangeMin": 193, "rangeMax": 0, "nice": false}}
          }
        },
        {
          "mark": {"type": "text", "text": "RSI (14, close)", "color": "#4a4a4a"},
          "encoding": {
            "x": {"datum": {"year": 2022, "month": 10, "date": 28, "utc": true}, "type": "temporal",
              "scale": {"type": "utc", "domain": [{"year": 2022, "month": 10, "date": 15, "hours": 12, "utc": true}, {"year": 2027, "month": 10, "date": 13, "hours": 2, "minutes": 24, "utc": true}]}},
            "y": {"datum": 79.5, "type": "quantitative", "scale": {"type": "log", "domain": [27.67, 101.3], "rangeMin": 193, "rangeMax": 0, "nice": false}}
          }
        },
        {
          "mark": {"type": "text", "text": "54.93", "color": "#7e57c2"},
          "encoding": {
            "x": {"datum": {"year": 2023, "month": 3, "date": 7, "utc": true}, "type": "temporal",
              "scale": {"type": "utc", "domain": [{"year": 2022, "month": 10, "date": 15, "hours": 12, "utc": true}, {"year": 2027, "month": 10, "date": 13, "hours": 2, "minutes": 24, "utc": true}]}},
            "y": {"datum": 79.5, "type": "quantitative", "scale": {"type": "log", "domain": [27.67, 101.3], "rangeMin": 193, "rangeMax": 0, "nice": false}}
          }
        },
        {
          "mark": {"type": "text", "text": "56.06", "color": "#f7d435"},
          "encoding": {
            "x": {"datum": {"year": 2023, "month": 5, "date": 5, "utc": true}, "type": "temporal",
              "scale": {"type": "utc", "domain": [{"year": 2022, "month": 10, "date": 15, "hours": 12, "utc": true}, {"year": 2027, "month": 10, "date": 13, "hours": 2, "minutes": 24, "utc": true}]}},
            "y": {"datum": 79.5, "type": "quantitative", "scale": {"type": "log", "domain": [27.67, 101.3], "rangeMin": 193, "rangeMax": 0, "nice": false}}
          }
        }
      ]
    },
    {
      "data": {"values": [{}]},
      "layer": [
        {
          "data": {"name": "xt"},
          "mark": {"type": "rule", "color": "#e9e4df", "strokeWidth": 2},
          "encoding": {
            "x": {"field": "t", "type": "temporal",
              "scale": {"type": "utc", "domain": [{"year": 2022, "month": 10, "date": 15, "hours": 12, "utc": true}, {"year": 2027, "month": 10, "date": 13, "hours": 2, "minutes": 24, "utc": true}]}},
            "y": {"datum": 14680, "type": "quantitative", "axis": null, "scale": {"type": "log", "domain": [6.549, 4898], "rangeMin": 1357, "rangeMax": 193, "nice": false}},
            "y2": {"datum": 6.549}
          }
        },
        {
          "data": {"values": [{"g": 8}, {"g": 11.5}, {"g": 16.5}, {"g": 23.5}, {"g": 33.5}, {"g": 51}, {"g": 75}, {"g": 115}, {"g": 175}, {"g": 275}, {"g": 400}, {"g": 600}, {"g": 900}, {"g": 1400}, {"g": 2200}]},
          "mark": {"type": "rule", "color": "#e9e4df", "strokeWidth": 2},
          "encoding": {
            "x": {"datum": {"year": 2022, "month": 10, "date": 15, "hours": 12, "utc": true}, "type": "temporal",
              "scale": {"type": "utc", "domain": [{"year": 2022, "month": 10, "date": 15, "hours": 12, "utc": true}, {"year": 2027, "month": 10, "date": 13, "hours": 2, "minutes": 24, "utc": true}]}},
            "x2": {"datum": {"year": 2027, "month": 6, "date": 27, "hours": 5, "utc": true}},
            "y": {"field": "g", "type": "quantitative", "axis": null, "scale": {"type": "log", "domain": [6.549, 4898], "rangeMin": 1357, "rangeMax": 193, "nice": false}}
          }
        },
        {
          "data": {"values": [{"s": 4898}, {"s": 6.549}]},
          "mark": {"type": "rule", "color": "#2b2b2b", "strokeWidth": 3},
          "encoding": {
            "x": {"datum": {"year": 2022, "month": 10, "date": 15, "hours": 12, "utc": true}, "type": "temporal",
              "scale": {"type": "utc", "domain": [{"year": 2022, "month": 10, "date": 15, "hours": 12, "utc": true}, {"year": 2027, "month": 10, "date": 13, "hours": 2, "minutes": 24, "utc": true}]}},
            "x2": {"datum": {"year": 2027, "month": 10, "date": 13, "hours": 2, "minutes": 24, "utc": true}},
            "y": {"field": "s", "type": "quantitative", "axis": null, "scale": {"type": "log", "domain": [6.549, 4898], "rangeMin": 1357, "rangeMax": 193, "nice": false}}
          }
        },
        {
          "mark": {"type": "rule", "color": "#5a5a5a", "strokeWidth": 2.5},
          "encoding": {
            "x": {"datum": {"year": 2022, "month": 10, "date": 15, "hours": 12, "utc": true}, "type": "temporal",
              "scale": {"type": "utc", "domain": [{"year": 2022, "month": 10, "date": 15, "hours": 12, "utc": true}, {"year": 2027, "month": 10, "date": 13, "hours": 2, "minutes": 24, "utc": true}]}},
            "x2": {"datum": {"year": 2027, "month": 10, "date": 13, "hours": 2, "minutes": 24, "utc": true}},
            "y": {"datum": 4.25, "type": "quantitative", "axis": null, "scale": {"type": "log", "domain": [6.549, 4898], "rangeMin": 1357, "rangeMax": 193, "nice": false}}
          }
        },
        {
          "mark": {"type": "rule", "color": "#5a5a5a", "strokeWidth": 2.5},
          "encoding": {
            "x": {"datum": {"year": 2027, "month": 6, "date": 27, "hours": 5, "utc": true}, "type": "temporal",
              "scale": {"type": "utc", "domain": [{"year": 2022, "month": 10, "date": 15, "hours": 12, "utc": true}, {"year": 2027, "month": 10, "date": 13, "hours": 2, "minutes": 24, "utc": true}]}},
            "y": {"datum": 14680, "type": "quantitative", "axis": null, "scale": {"type": "log", "domain": [6.549, 4898], "rangeMin": 1357, "rangeMax": 193, "nice": false}},
            "y2": {"datum": 3.04}
          }
        },
        {
          "mark": {"type": "rule", "color": "#5e9f78", "strokeWidth": 1.6, "strokeDash": [2, 6]},
          "encoding": {
            "x": {"datum": {"year": 2022, "month": 10, "date": 15, "hours": 12, "utc": true}, "type": "temporal",
              "scale": {"type": "utc", "domain": [{"year": 2022, "month": 10, "date": 15, "hours": 12, "utc": true}, {"year": 2027, "month": 10, "date": 13, "hours": 2, "minutes": 24, "utc": true}]}},
            "x2": {"datum": {"year": 2027, "month": 3, "date": 15, "utc": true}},
            "y": {"datum": 504.19, "type": "quantitative", "axis": null, "scale": {"type": "log", "domain": [6.549, 4898], "rangeMin": 1357, "rangeMax": 193, "nice": false}}
          }
        },
        {
          "mark": {"type": "rect", "fill": "#dadada"},
          "encoding": {
            "x": {"datum": {"year": 2022, "month": 10, "date": 18, "hours": 21, "utc": true}, "type": "temporal",
              "scale": {"type": "utc", "domain": [{"year": 2022, "month": 10, "date": 15, "hours": 12, "utc": true}, {"year": 2027, "month": 10, "date": 13, "hours": 2, "minutes": 24, "utc": true}]}},
            "x2": {"datum": {"year": 2022, "month": 11, "date": 4, "hours": 17, "utc": true}},
            "y": {"datum": 2.287, "type": "quantitative", "axis": null, "scale": {"type": "log", "domain": [6.549, 4898], "rangeMin": 1357, "rangeMax": 193, "nice": false}},
            "y2": {"datum": 2.136}
          }
        },
        {
          "mark": {"type": "rect", "fill": "#dadada"},
          "encoding": {
            "x": {"datum": {"year": 2022, "month": 10, "date": 26, "hours": 23, "utc": true}, "type": "temporal",
              "scale": {"type": "utc", "domain": [{"year": 2022, "month": 10, "date": 15, "hours": 12, "utc": true}, {"year": 2027, "month": 10, "date": 13, "hours": 2, "minutes": 24, "utc": true}]}},
            "x2": {"datum": {"year": 2022, "month": 11, "date": 4, "hours": 17, "utc": true}},
            "y": {"datum": 2.287, "type": "quantitative", "axis": null, "scale": {"type": "log", "domain": [6.549, 4898], "rangeMin": 1357, "rangeMax": 193, "nice": false}},
            "y2": {"datum": 1.907}
          }
        },
        {
          "mark": {"type": "point", "filled": true, "size": 160, "color": "#dadada", "opacity": 1},
          "encoding": {
            "x": {"datum": {"year": 2022, "month": 11, "date": 13, "hours": 11, "utc": true}, "type": "temporal",
              "scale": {"type": "utc", "domain": [{"year": 2022, "month": 10, "date": 15, "hours": 12, "utc": true}, {"year": 2027, "month": 10, "date": 13, "hours": 2, "minutes": 24, "utc": true}]}},
            "y": {"datum": 2.211, "type": "quantitative", "axis": null, "scale": {"type": "log", "domain": [6.549, 4898], "rangeMin": 1357, "rangeMax": 193, "nice": false}}
          }
        },
        {
          "data": {"name": "logo"},
          "mark": {"type": "area", "orient": "horizontal", "fill": "#dadada"},
          "encoding": {
            "y": {"field": "p", "type": "quantitative", "axis": null, "scale": {"type": "log", "domain": [6.549, 4898], "rangeMin": 1357, "rangeMax": 193, "nice": false}},
            "x": {"field": "a", "type": "temporal", "stack": null,
              "scale": {"type": "utc", "domain": [{"year": 2022, "month": 10, "date": 15, "hours": 12, "utc": true}, {"year": 2027, "month": 10, "date": 13, "hours": 2, "minutes": 24, "utc": true}]}},
            "x2": {"field": "b"}
          }
        }
      ]
    },
    {
      "data": {"name": "candles"},
      "mark": {"type": "bar", "width": 7.5},
      "encoding": {
        "x": {"field": "d", "type": "temporal",
          "scale": {"type": "utc", "domain": [{"year": 2022, "month": 10, "date": 15, "hours": 12, "utc": true}, {"year": 2027, "month": 10, "date": 13, "hours": 2, "minutes": 24, "utc": true}]}},
        "y": {"field": "v", "type": "quantitative", "axis": null, "scale": {"type": "linear", "domain": [0, 50], "rangeMin": 1355, "rangeMax": 1008, "nice": false}},
        "color": {"condition": {"test": "datum.c >= datum.o", "value": "#8ec6b5"}, "value": "#f09c91"}
      }
    },
    {
      "data": {"values": [{}]},
      "layer": [
        {
          "data": {"name": "candles"},
          "mark": {"type": "rule", "color": "#6f6f6f", "strokeWidth": 1.8},
          "encoding": {
            "x": {"field": "d", "type": "temporal",
              "scale": {"type": "utc", "domain": [{"year": 2022, "month": 10, "date": 15, "hours": 12, "utc": true}, {"year": 2027, "month": 10, "date": 13, "hours": 2, "minutes": 24, "utc": true}]}},
            "y": {"field": "l", "type": "quantitative", "scale": {"type": "log", "domain": [6.549, 4898], "rangeMin": 1357, "rangeMax": 193, "nice": false}},
            "y2": {"field": "h"}
          }
        },
        {
          "data": {"name": "candles"},
          "mark": {"type": "bar", "width": 6.5, "strokeWidth": 1.5},
          "encoding": {
            "x": {"field": "d", "type": "temporal",
              "scale": {"type": "utc", "domain": [{"year": 2022, "month": 10, "date": 15, "hours": 12, "utc": true}, {"year": 2027, "month": 10, "date": 13, "hours": 2, "minutes": 24, "utc": true}]}},
            "y": {"field": "o", "type": "quantitative", "scale": {"type": "log", "domain": [6.549, 4898], "rangeMin": 1357, "rangeMax": 193, "nice": false},
              "axis": {"orient": "right", "offset": -160, "values": [8, 11.5, 16.5, 23.5, 33.5, 51, 75, 115, 175, 275, 400, 600, 900, 1400, 2200],
                "format": ",.2f", "labelFont": "DejaVu Sans", "labelFontSize": 23, "labelColor": "#555555", "labelPadding": 19,
                "labelOverlap": false, "labelFlush": false, "labelBound": false, "domain": false, "ticks": false, "grid": false, "title": null}},
            "y2": {"field": "c"},
            "fill": {"condition": {"test": "datum.c >= datum.o", "value": "#5a9b72"}, "value": "#d64a38"},
            "stroke": {"condition": {"test": "datum.c >= datum.o", "value": "#1f5536"}, "value": "#5e1a12"}
          }
        },
        {
          "data": {"name": "ema"},
          "mark": {"type": "line", "strokeWidth": 2.6},
          "encoding": {
            "x": {"field": "d", "type": "temporal",
              "scale": {"type": "utc", "domain": [{"year": 2022, "month": 10, "date": 15, "hours": 12, "utc": true}, {"year": 2027, "month": 10, "date": 13, "hours": 2, "minutes": 24, "utc": true}]}},
            "y": {"field": "v", "type": "quantitative", "scale": {"type": "log", "domain": [6.549, 4898], "rangeMin": 1357, "rangeMax": 193, "nice": false}},
            "color": {"field": "s", "type": "nominal", "legend": null,
              "scale": {"domain": ["20", "50", "100", "200"], "range": ["#0d6b4e", "#f23645", "#673ab7", "#2962ff"]}}
          }
        },
        {
          "data": {"name": "cup"},
          "mark": {"type": "area", "fill": "#746c66", "fillOpacity": 0.4},
          "encoding": {
            "x": {"field": "d", "type": "temporal",
              "scale": {"type": "utc", "domain": [{"year": 2022, "month": 10, "date": 15, "hours": 12, "utc": true}, {"year": 2027, "month": 10, "date": 13, "hours": 2, "minutes": 24, "utc": true}]}},
            "y": {"field": "p", "type": "quantitative", "stack": null, "scale": {"type": "log", "domain": [6.549, 4898], "rangeMin": 1357, "rangeMax": 193, "nice": false}},
            "y2": {"datum": 697},
            "detail": {"field": "g"}
          }
        },
        {
          "data": {"name": "cup"},
          "mark": {"type": "line", "color": "#111111", "strokeWidth": 4, "interpolate": "monotone"},
          "encoding": {
            "x": {"field": "d", "type": "temporal",
              "scale": {"type": "utc", "domain": [{"year": 2022, "month": 10, "date": 15, "hours": 12, "utc": true}, {"year": 2027, "month": 10, "date": 13, "hours": 2, "minutes": 24, "utc": true}]}},
            "y": {"field": "p", "type": "quantitative", "scale": {"type": "log", "domain": [6.549, 4898], "rangeMin": 1357, "rangeMax": 193, "nice": false}},
            "detail": {"field": "g"}
          }
        },
        {
          "data": {"name": "draw"},
          "mark": {"type": "line", "color": "#111111", "strokeWidth": 3.5, "strokeCap": "round"},
          "encoding": {
            "x": {"field": "d", "type": "temporal",
              "scale": {"type": "utc", "domain": [{"year": 2022, "month": 10, "date": 15, "hours": 12, "utc": true}, {"year": 2027, "month": 10, "date": 13, "hours": 2, "minutes": 24, "utc": true}]}},
            "y": {"field": "p", "type": "quantitative", "scale": {"type": "log", "domain": [6.549, 4898], "rangeMin": 1357, "rangeMax": 193, "nice": false}},
            "detail": {"field": "g"},
            "order": {"field": "k"}
          }
        },
        {
          "mark": {"type": "rule", "color": "#111111", "strokeWidth": 4, "strokeDash": [3, 10]},
          "encoding": {
            "x": {"datum": {"year": 2026, "month": 6, "date": 27, "utc": true}, "type": "temporal",
              "scale": {"type": "utc", "domain": [{"year": 2022, "month": 10, "date": 15, "hours": 12, "utc": true}, {"year": 2027, "month": 10, "date": 13, "hours": 2, "minutes": 24, "utc": true}]}},
            "x2": {"datum": {"year": 2027, "month": 6, "date": 19, "utc": true}},
            "y": {"datum": 2804.72, "type": "quantitative", "scale": {"type": "log", "domain": [6.549, 4898], "rangeMin": 1357, "rangeMax": 193, "nice": false}}
          }
        },
        {
          "mark": {"type": "rect", "fill": "#f28b89", "stroke": "#3d1414", "strokeWidth": 3, "cornerRadius": 14},
          "encoding": {
            "x": {"datum": {"year": 2026, "month": 3, "date": 2, "utc": true}, "type": "temporal",
              "scale": {"type": "utc", "domain": [{"year": 2022, "month": 10, "date": 15, "hours": 12, "utc": true}, {"year": 2027, "month": 10, "date": 13, "hours": 2, "minutes": 24, "utc": true}]}},
            "x2": {"datum": {"year": 2027, "month": 1, "date": 12, "utc": true}},
            "y": {"datum": 90.0, "type": "quantitative", "scale": {"type": "log", "domain": [6.549, 4898], "rangeMin": 1357, "rangeMax": 193, "nice": false}},
            "y2": {"datum": 58.4}
          }
        },
        {
          "data": {"name": "tri"},
          "mark": {"type": "area", "fill": "#f28b89"},
          "encoding": {
            "x": {"field": "d", "type": "temporal",
              "scale": {"type": "utc", "domain": [{"year": 2022, "month": 10, "date": 15, "hours": 12, "utc": true}, {"year": 2027, "month": 10, "date": 13, "hours": 2, "minutes": 24, "utc": true}]}},
            "y": {"field": "p1", "type": "quantitative", "stack": null, "scale": {"type": "log", "domain": [6.549, 4898], "rangeMin": 1357, "rangeMax": 193, "nice": false}},
            "y2": {"field": "p2"}
          }
        },
        {
          "data": {"name": "edge"},
          "mark": {"type": "line", "color": "#3d1414", "strokeWidth": 3},
          "encoding": {
            "x": {"field": "d", "type": "temporal",
              "scale": {"type": "utc", "domain": [{"year": 2022, "month": 10, "date": 15, "hours": 12, "utc": true}, {"year": 2027, "month": 10, "date": 13, "hours": 2, "minutes": 24, "utc": true}]}},
            "y": {"field": "p", "type": "quantitative", "scale": {"type": "log", "domain": [6.549, 4898], "rangeMin": 1357, "rangeMax": 193, "nice": false}},
            "order": {"field": "k"}
          }
        },
        {
          "mark": {"type": "text", "text": "Orchard vulnerability selloff", "font": "Roboto", "fontSize": 28, "fontWeight": "bold", "color": "#141414", "align": "center"},
          "encoding": {
            "x": {"datum": {"year": 2026, "month": 8, "date": 7, "utc": true}, "type": "temporal",
              "scale": {"type": "utc", "domain": [{"year": 2022, "month": 10, "date": 15, "hours": 12, "utc": true}, {"year": 2027, "month": 10, "date": 13, "hours": 2, "minutes": 24, "utc": true}]}},
            "y": {"datum": 72.5, "type": "quantitative", "scale": {"type": "log", "domain": [6.549, 4898], "rangeMin": 1357, "rangeMax": 193, "nice": false}}
          }
        },
        {
          "mark": {"type": "text", "text": "Zcash / TetherUS PERPETUAL CONTRACT · 1W · Binance", "color": "#444444"},
          "encoding": {
            "x": {"datum": {"year": 2022, "month": 10, "date": 28, "utc": true}, "type": "temporal",
              "scale": {"type": "utc", "domain": [{"year": 2022, "month": 10, "date": 15, "hours": 12, "utc": true}, {"year": 2027, "month": 10, "date": 13, "hours": 2, "minutes": 24, "utc": true}]}},
            "y": {"datum": 3972, "type": "quantitative", "scale": {"type": "log", "domain": [6.549, 4898], "rangeMin": 1357, "rangeMax": 193, "nice": false}}
          }
        },
        {
          "mark": {"type": "text", "text": "O486.02\u00a0\u00a0H522.00\u00a0\u00a0L484.81\u00a0\u00a0C504.19\u00a0\u00a0+18.17 (+3.74%)", "color": "#1d6a46"},
          "encoding": {
            "x": {"datum": {"year": 2024, "month": 2, "date": 26, "utc": true}, "type": "temporal",
              "scale": {"type": "utc", "domain": [{"year": 2022, "month": 10, "date": 15, "hours": 12, "utc": true}, {"year": 2027, "month": 10, "date": 13, "hours": 2, "minutes": 24, "utc": true}]}},
            "y": {"datum": 3972, "type": "quantitative", "scale": {"type": "log", "domain": [6.549, 4898], "rangeMin": 1357, "rangeMax": 193, "nice": false}}
          }
        },
        {
          "mark": {"type": "text", "text": "EMA (50, close)", "color": "#444444"},
          "encoding": {
            "x": {"datum": {"year": 2022, "month": 10, "date": 28, "utc": true}, "type": "temporal",
              "scale": {"type": "utc", "domain": [{"year": 2022, "month": 10, "date": 15, "hours": 12, "utc": true}, {"year": 2027, "month": 10, "date": 13, "hours": 2, "minutes": 24, "utc": true}]}},
            "y": {"datum": 3199, "type": "quantitative", "scale": {"type": "log", "domain": [6.549, 4898], "rangeMin": 1357, "rangeMax": 193, "nice": false}}
          }
        },
        {
          "mark": {"type": "text", "text": "370.24", "color": "#f23645"},
          "encoding": {
            "x": {"datum": {"year": 2023, "month": 3, "date": 20, "utc": true}, "type": "temporal",
              "scale": {"type": "utc", "domain": [{"year": 2022, "month": 10, "date": 15, "hours": 12, "utc": true}, {"year": 2027, "month": 10, "date": 13, "hours": 2, "minutes": 24, "utc": true}]}},
            "y": {"datum": 3199, "type": "quantitative", "scale": {"type": "log", "domain": [6.549, 4898], "rangeMin": 1357, "rangeMax": 193, "nice": false}}
          }
        },
        {
          "mark": {"type": "text", "text": "EMA (200, close)", "color": "#444444"},
          "encoding": {
            "x": {"datum": {"year": 2022, "month": 10, "date": 28, "utc": true}, "type": "temporal",
              "scale": {"type": "utc", "domain": [{"year": 2022, "month": 10, "date": 15, "hours": 12, "utc": true}, {"year": 2027, "month": 10, "date": 13, "hours": 2, "minutes": 24, "utc": true}]}},
            "y": {"datum": 2607, "type": "quantitative", "scale": {"type": "log", "domain": [6.549, 4898], "rangeMin": 1357, "rangeMax": 193, "nice": false}}
          }
        },
        {
          "mark": {"type": "text", "text": "188.58", "color": "#2962ff"},
          "encoding": {
            "x": {"datum": {"year": 2023, "month": 3, "date": 28, "utc": true}, "type": "temporal",
              "scale": {"type": "utc", "domain": [{"year": 2022, "month": 10, "date": 15, "hours": 12, "utc": true}, {"year": 2027, "month": 10, "date": 13, "hours": 2, "minutes": 24, "utc": true}]}},
            "y": {"datum": 2607, "type": "quantitative", "scale": {"type": "log", "domain": [6.549, 4898], "rangeMin": 1357, "rangeMax": 193, "nice": false}}
          }
        },
        {
          "mark": {"type": "text", "text": "Vol · ZEC", "color": "#444444"},
          "encoding": {
            "x": {"datum": {"year": 2022, "month": 10, "date": 28, "utc": true}, "type": "temporal",
              "scale": {"type": "utc", "domain": [{"year": 2022, "month": 10, "date": 15, "hours": 12, "utc": true}, {"year": 2027, "month": 10, "date": 13, "hours": 2, "minutes": 24, "utc": true}]}},
            "y": {"datum": 2112, "type": "quantitative", "scale": {"type": "log", "domain": [6.549, 4898], "rangeMin": 1357, "rangeMax": 193, "nice": false}}
          }
        },
        {
          "mark": {"type": "text", "text": "1.3 M", "color": "#22ab94"},
          "encoding": {
            "x": {"datum": {"year": 2023, "month": 1, "date": 22, "utc": true}, "type": "temporal",
              "scale": {"type": "utc", "domain": [{"year": 2022, "month": 10, "date": 15, "hours": 12, "utc": true}, {"year": 2027, "month": 10, "date": 13, "hours": 2, "minutes": 24, "utc": true}]}},
            "y": {"datum": 2112, "type": "quantitative", "scale": {"type": "log", "domain": [6.549, 4898], "rangeMin": 1357, "rangeMax": 193, "nice": false}}
          }
        },
        {
          "mark": {"type": "text", "text": "EMA (20, close)", "color": "#444444"},
          "encoding": {
            "x": {"datum": {"year": 2022, "month": 10, "date": 28, "utc": true}, "type": "temporal",
              "scale": {"type": "utc", "domain": [{"year": 2022, "month": 10, "date": 15, "hours": 12, "utc": true}, {"year": 2027, "month": 10, "date": 13, "hours": 2, "minutes": 24, "utc": true}]}},
            "y": {"datum": 1712, "type": "quantitative", "scale": {"type": "log", "domain": [6.549, 4898], "rangeMin": 1357, "rangeMax": 193, "nice": false}}
          }
        },
        {
          "mark": {"type": "text", "text": "461.49", "color": "#0b5e41"},
          "encoding": {
            "x": {"datum": {"year": 2023, "month": 3, "date": 20, "utc": true}, "type": "temporal",
              "scale": {"type": "utc", "domain": [{"year": 2022, "month": 10, "date": 15, "hours": 12, "utc": true}, {"year": 2027, "month": 10, "date": 13, "hours": 2, "minutes": 24, "utc": true}]}},
            "y": {"datum": 1712, "type": "quantitative", "scale": {"type": "log", "domain": [6.549, 4898], "rangeMin": 1357, "rangeMax": 193, "nice": false}}
          }
        },
        {
          "mark": {"type": "text", "text": "EMA (100, close)", "color": "#444444"},
          "encoding": {
            "x": {"datum": {"year": 2022, "month": 10, "date": 28, "utc": true}, "type": "temporal",
              "scale": {"type": "utc", "domain": [{"year": 2022, "month": 10, "date": 15, "hours": 12, "utc": true}, {"year": 2027, "month": 10, "date": 13, "hours": 2, "minutes": 24, "utc": true}]}},
            "y": {"datum": 1387, "type": "quantitative", "scale": {"type": "log", "domain": [6.549, 4898], "rangeMin": 1357, "rangeMax": 193, "nice": false}}
          }
        },
        {
          "mark": {"type": "text", "text": "269.71", "color": "#5b30b5"},
          "encoding": {
            "x": {"datum": {"year": 2023, "month": 3, "date": 28, "utc": true}, "type": "temporal",
              "scale": {"type": "utc", "domain": [{"year": 2022, "month": 10, "date": 15, "hours": 12, "utc": true}, {"year": 2027, "month": 10, "date": 13, "hours": 2, "minutes": 24, "utc": true}]}},
            "y": {"datum": 1387, "type": "quantitative", "scale": {"type": "log", "domain": [6.549, 4898], "rangeMin": 1357, "rangeMax": 193, "nice": false}}
          }
        },
        {
          "mark": {"type": "text", "text": "Funding Rate", "color": "#444444"},
          "encoding": {
            "x": {"datum": {"year": 2022, "month": 10, "date": 28, "utc": true}, "type": "temporal",
              "scale": {"type": "utc", "domain": [{"year": 2022, "month": 10, "date": 15, "hours": 12, "utc": true}, {"year": 2027, "month": 10, "date": 13, "hours": 2, "minutes": 24, "utc": true}]}},
            "y": {"datum": 5.30, "type": "quantitative", "scale": {"type": "log", "domain": [6.549, 4898], "rangeMin": 1357, "rangeMax": 193, "nice": false}}
          }
        },
        {
          "mark": {"type": "text", "text": "0.0100%", "color": "#089981"},
          "encoding": {
            "x": {"datum": {"year": 2023, "month": 2, "date": 25, "utc": true}, "type": "temporal",
              "scale": {"type": "utc", "domain": [{"year": 2022, "month": 10, "date": 15, "hours": 12, "utc": true}, {"year": 2027, "month": 10, "date": 13, "hours": 2, "minutes": 24, "utc": true}]}},
            "y": {"datum": 5.30, "type": "quantitative", "scale": {"type": "log", "domain": [6.549, 4898], "rangeMin": 1357, "rangeMax": 193, "nice": false}}
          }
        },
        {
          "mark": {"type": "rect", "fill": "#ffffff", "cornerRadius": 9},
          "encoding": {
            "x": {"datum": {"year": 2027, "month": 7, "date": 2, "utc": true}, "type": "temporal",
              "scale": {"type": "utc", "domain": [{"year": 2022, "month": 10, "date": 15, "hours": 12, "utc": true}, {"year": 2027, "month": 10, "date": 13, "hours": 2, "minutes": 24, "utc": true}]}},
            "x2": {"datum": {"year": 2027, "month": 10, "date": 8, "utc": true}},
            "y": {"datum": 3367, "type": "quantitative", "scale": {"type": "log", "domain": [6.549, 4898], "rangeMin": 1357, "rangeMax": 193, "nice": false}},
            "y2": {"datum": 4603}
          }
        },
        {
          "mark": {"type": "text", "text": "USDT", "color": "#131722", "align": "center"},
          "encoding": {
            "x": {"datum": {"year": 2027, "month": 8, "date": 9, "utc": true}, "type": "temporal",
              "scale": {"type": "utc", "domain": [{"year": 2022, "month": 10, "date": 15, "hours": 12, "utc": true}, {"year": 2027, "month": 10, "date": 13, "hours": 2, "minutes": 24, "utc": true}]}},
            "y": {"datum": 3903, "type": "quantitative", "scale": {"type": "log", "domain": [6.549, 4898], "rangeMin": 1357, "rangeMax": 193, "nice": false}}
          }
        },
        {
          "mark": {"type": "rect", "fill": "#000000", "cornerRadius": 3},
          "encoding": {
            "x": {"datum": {"year": 2027, "month": 6, "date": 28, "utc": true}, "type": "temporal",
              "scale": {"type": "utc", "domain": [{"year": 2022, "month": 10, "date": 15, "hours": 12, "utc": true}, {"year": 2027, "month": 10, "date": 13, "hours": 2, "minutes": 24, "utc": true}]}},
            "x2": {"datum": {"year": 2027, "month": 9, "date": 27, "utc": true}},
            "y": {"datum": 2548, "type": "quantitative", "scale": {"type": "log", "domain": [6.549, 4898], "rangeMin": 1357, "rangeMax": 193, "nice": false}},
            "y2": {"datum": 3056}
          }
        },
        {
          "mark": {"type": "text", "text": "2,804.72", "color": "#ffffff", "fontSize": 23},
          "encoding": {
            "x": {"datum": {"year": 2027, "month": 7, "date": 12, "utc": true}, "type": "temporal",
              "scale": {"type": "utc", "domain": [{"year": 2022, "month": 10, "date": 15, "hours": 12, "utc": true}, {"year": 2027, "month": 10, "date": 13, "hours": 2, "minutes": 24, "utc": true}]}},
            "y": {"datum": 2804.72, "type": "quantitative", "scale": {"type": "log", "domain": [6.549, 4898], "rangeMin": 1357, "rangeMax": 193, "nice": false}}
          }
        },
        {
          "mark": {"type": "rect", "fill": "#6aa683", "cornerRadius": 4},
          "encoding": {
            "x": {"datum": {"year": 2027, "month": 6, "date": 28, "utc": true}, "type": "temporal",
              "scale": {"type": "utc", "domain": [{"year": 2022, "month": 10, "date": 15, "hours": 12, "utc": true}, {"year": 2027, "month": 10, "date": 13, "hours": 2, "minutes": 24, "utc": true}]}},
            "x2": {"datum": {"year": 2027, "month": 9, "date": 12, "utc": true}},
            "y": {"datum": 388, "type": "quantitative", "scale": {"type": "log", "domain": [6.549, 4898], "rangeMin": 1357, "rangeMax": 193, "nice": false}},
            "y2": {"datum": 549}
          }
        },
        {
          "mark": {"type": "rect", "fill": "#6aa683", "cornerRadius": 4},
          "encoding": {
            "x": {"datum": {"year": 2027, "month": 3, "date": 15, "utc": true}, "type": "temporal",
              "scale": {"type": "utc", "domain": [{"year": 2022, "month": 10, "date": 15, "hours": 12, "utc": true}, {"year": 2027, "month": 10, "date": 13, "hours": 2, "minutes": 24, "utc": true}]}},
            "x2": {"datum": {"year": 2027, "month": 6, "date": 28, "utc": true}},
            "y": {"datum": 455, "type": "quantitative", "scale": {"type": "log", "domain": [6.549, 4898], "rangeMin": 1357, "rangeMax": 193, "nice": false}},
            "y2": {"datum": 549}
          }
        },
        {
          "mark": {"type": "text", "text": "504.19", "color": "#ffffff", "fontSize": 23},
          "encoding": {
            "x": {"datum": {"year": 2027, "month": 7, "date": 12, "utc": true}, "type": "temporal",
              "scale": {"type": "utc", "domain": [{"year": 2022, "month": 10, "date": 15, "hours": 12, "utc": true}, {"year": 2027, "month": 10, "date": 13, "hours": 2, "minutes": 24, "utc": true}]}},
            "y": {"datum": 504.19, "type": "quantitative", "scale": {"type": "log", "domain": [6.549, 4898], "rangeMin": 1357, "rangeMax": 193, "nice": false}}
          }
        },
        {
          "mark": {"type": "text", "text": "5d 12h", "color": "#d8eddf", "fontSize": 23},
          "encoding": {
            "x": {"datum": {"year": 2027, "month": 7, "date": 12, "utc": true}, "type": "temporal",
              "scale": {"type": "utc", "domain": [{"year": 2022, "month": 10, "date": 15, "hours": 12, "utc": true}, {"year": 2027, "month": 10, "date": 13, "hours": 2, "minutes": 24, "utc": true}]}},
            "y": {"datum": 427.4, "type": "quantitative", "scale": {"type": "log", "domain": [6.549, 4898], "rangeMin": 1357, "rangeMax": 193, "nice": false}}
          }
        },
        {
          "mark": {"type": "text", "text": "ZECUSDT.P", "color": "#ffffff", "fontSize": 23, "align": "center"},
          "encoding": {
            "x": {"datum": {"year": 2027, "month": 5, "date": 6, "utc": true}, "type": "temporal",
              "scale": {"type": "utc", "domain": [{"year": 2022, "month": 10, "date": 15, "hours": 12, "utc": true}, {"year": 2027, "month": 10, "date": 13, "hours": 2, "minutes": 24, "utc": true}]}},
            "y": {"datum": 504.19, "type": "quantitative", "scale": {"type": "log", "domain": [6.549, 4898], "rangeMin": 1357, "rangeMax": 193, "nice": false}}
          }
        }
      ]
    }
  ],
  "resolve": {"scale": {"y": "independent"}, "axis": {"y": "independent"}}
}
